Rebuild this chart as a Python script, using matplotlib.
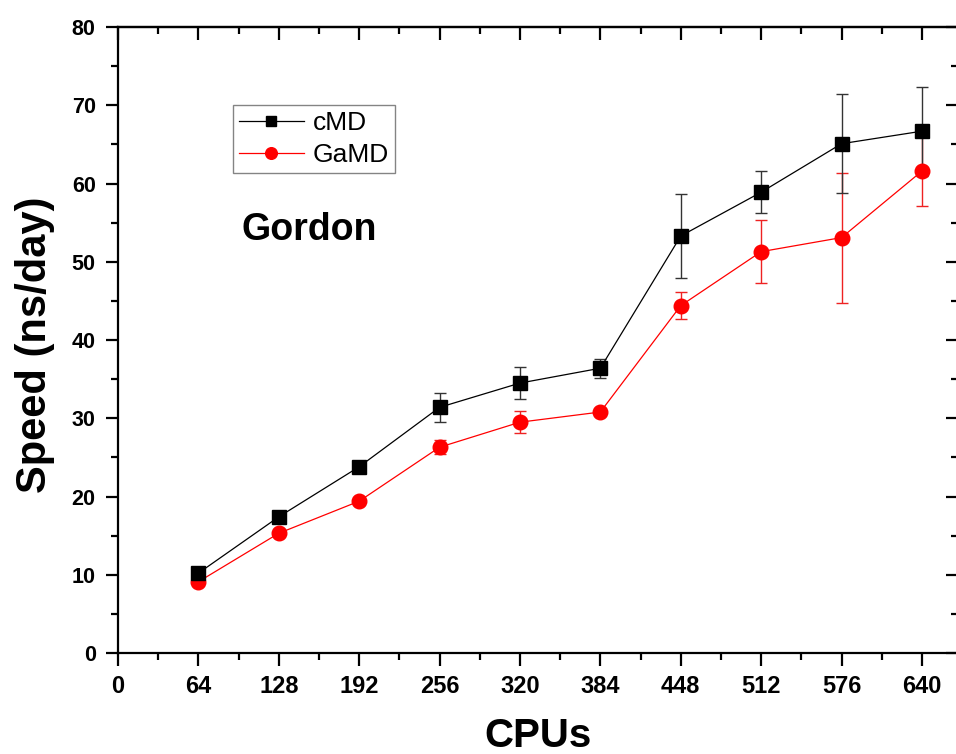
import matplotlib
matplotlib.use('Agg')
import matplotlib.pyplot as plt
from matplotlib.ticker import MultipleLocator

plt.rcParams['font.family'] = ['Liberation Sans', 'DejaVu Sans']

cpus = [64, 128, 192, 256, 320, 384, 448, 512, 576, 640]
cmd = [10.2, 17.4, 23.8, 31.4, 34.5, 36.4, 53.3, 58.9, 65.1, 66.7]
cmd_err = [0.0, 0.0, 0.0, 1.85, 2.05, 1.2, 5.4, 2.7, 6.3, 5.7]
gamd = [9.1, 15.3, 19.4, 26.3, 29.5, 30.8, 44.4, 51.3, 53.1, 61.6]
gamd_err = [0.0, 0.0, 0.0, 0.9, 1.4, 0.0, 1.7, 4.0, 8.3, 4.4]

fig = plt.figure(figsize=(9.56, 7.54), dpi=100)
ax = fig.add_axes([0.1234, 0.134, 0.8787, 0.830])

# only draw bars where there is a visible error
for xs, ys, es, c, z in [(cpus, cmd, cmd_err, '#333333', 2), (cpus, gamd, gamd_err, '#ee2222', 1)]:
    sel = [i for i, e in enumerate(es) if e > 0]
    ax.errorbar([xs[i] for i in sel], [ys[i] for i in sel], yerr=[es[i] for i in sel],
                fmt='none', ecolor=c, elinewidth=1.0, capsize=4.5, capthick=1.0, zorder=z)
ax.plot(cpus, cmd, color='black', lw=0.9, marker='s', ms=9.5, label='cMD', zorder=4)
ax.plot(cpus, gamd, color='red', lw=0.9, marker='o', ms=10.5, label='GaMD', zorder=3)

ax.set_xlim(0, 668.7)
ax.set_ylim(0, 80)
ax.xaxis.set_major_locator(MultipleLocator(64))
ax.xaxis.set_minor_locator(MultipleLocator(32))
ax.yaxis.set_major_locator(MultipleLocator(10))
ax.yaxis.set_minor_locator(MultipleLocator(5))

for s in ax.spines.values():
    s.set_linewidth(1.6)
ax.tick_params(which='major', direction='out', length=9, width=1.6, pad=7)
ax.tick_params(which='minor', direction='out', length=5, width=1.6)
ax.tick_params(axis='x', labelsize=17)
ax.tick_params(axis='y', labelsize=15.5)
for lab in ax.get_xticklabels() + ax.get_yticklabels():
    lab.set_fontweight('bold')

# top and right axes carry inward ticks, no labels
top = ax.secondary_xaxis('top')
top.xaxis.set_major_locator(MultipleLocator(64))
top.xaxis.set_minor_locator(MultipleLocator(32))
top.tick_params(which='major', direction='in', length=9, width=1.6, labeltop=False)
top.tick_params(which='minor', direction='in', length=5, width=1.6)
top.spines['top'].set_linewidth(1.6)
right = ax.secondary_yaxis('right')
right.yaxis.set_major_locator(MultipleLocator(10))
right.yaxis.set_minor_locator(MultipleLocator(5))
right.tick_params(which='major', direction='in', length=9, width=1.6, labelright=False)
right.tick_params(which='minor', direction='in', length=5, width=1.6)
right.spines['right'].set_linewidth(1.6)

ax.set_xlabel('CPUs', fontsize=29, fontweight='bold')
ax.xaxis.set_label_coords(0.5, -0.102)
ax.set_ylabel('Speed (ns/day)', fontsize=30, fontweight='bold')
ax.yaxis.set_label_coords(-0.0745, 0.492)

leg = ax.legend(loc='upper left', bbox_to_anchor=(0.137, 0.875), borderaxespad=0,
                fontsize=19, fancybox=False, frameon=True, handlelength=2.45,
                handletextpad=0.35, borderpad=0.22, labelspacing=0.3, markerscale=0.8)
leg.get_frame().set_edgecolor('#666666')
leg.get_frame().set_linewidth(1.0)

ax.text(98, 54.1, 'Gordon', fontsize=27, fontweight='bold', ha='left', va='center')

fig.savefig('out.png', dpi=100)
